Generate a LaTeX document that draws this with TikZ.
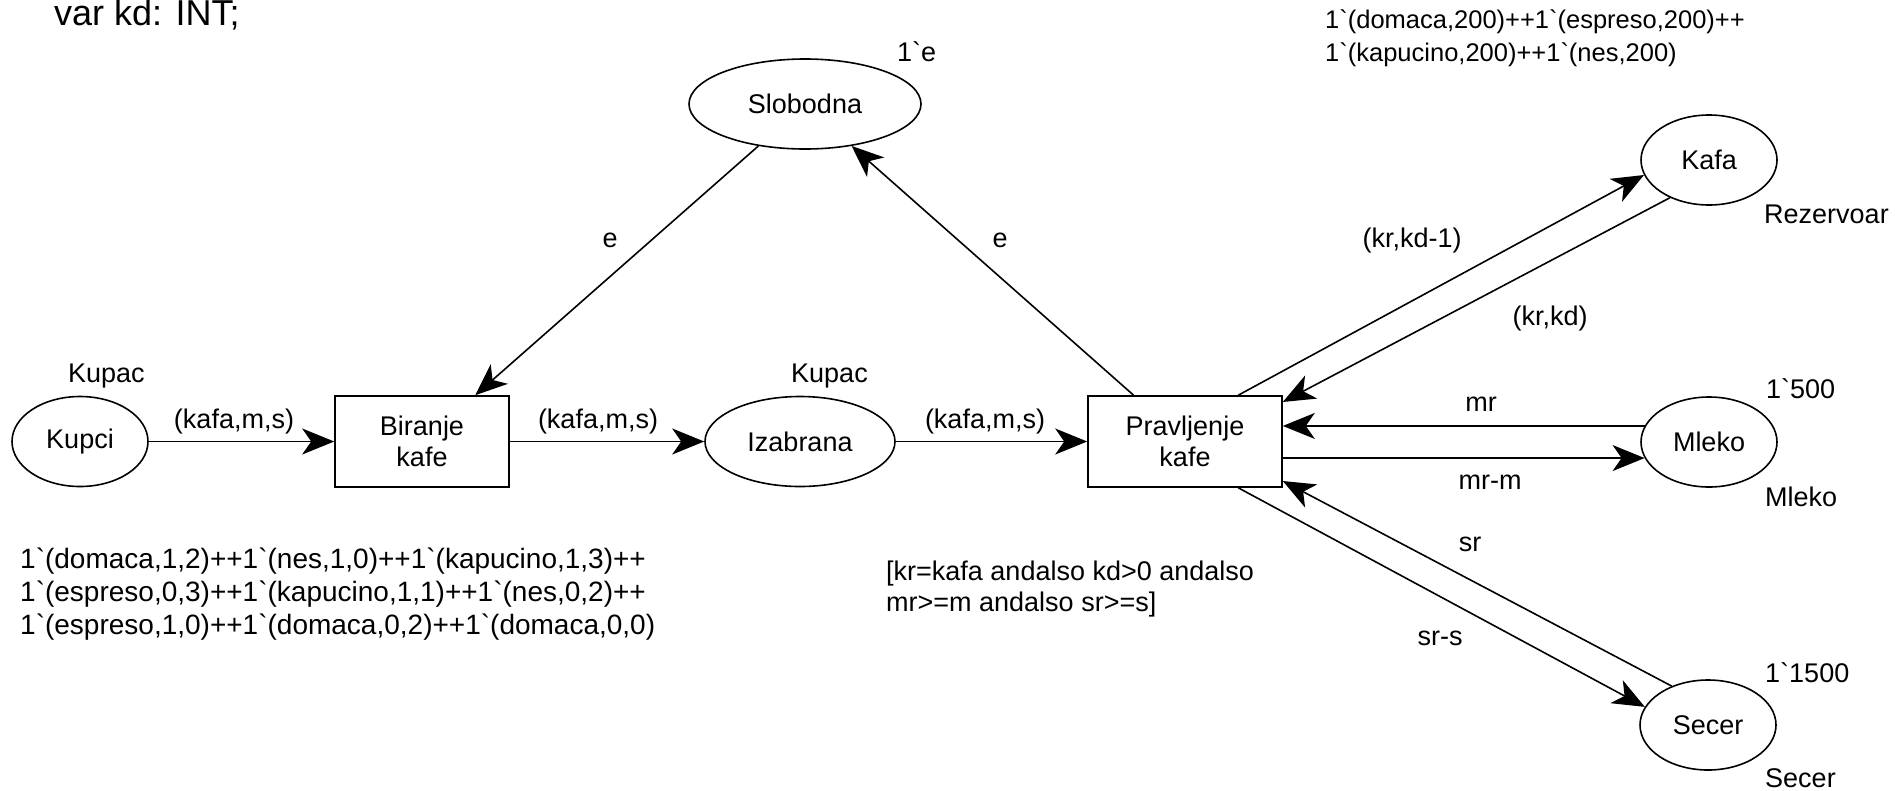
\documentclass[tikz,border=0pt]{standalone}
\usepackage{fontspec}
\newfontfamily\lsans{Liberation Sans}
\usetikzlibrary{arrows.meta,shapes.geometric,calc}
\begin{document}
\begin{tikzpicture}[x=1pt,y=-1pt,
  every node/.style={font=\lsans\fontsize{27}{31}\selectfont},
  place/.style={ellipse,draw,line width=1.6pt,inner sep=0pt,minimum width=136pt,minimum height=90pt},
  trans/.style={rectangle,draw,line width=1.6pt,inner sep=0pt,align=center,minimum height=91pt},
  arc/.style={line width=1.6pt,-{Stealth[length=32pt,width=26pt,inset=9pt]}},
  lbl/.style={inner sep=0pt,anchor=base},
  lblw/.style={inner sep=0pt,anchor=base west},
  txt/.style={inner sep=0pt,anchor=north west,align=left}]
\useasboundingbox (0,0) rectangle (1895,790);

% declarations
\node[lblw,font=\lsans\fontsize{36}{40}\selectfont] (decl) at (54,25) {var kd: INT;};
\node[txt,font=\lsans\fontsize{25.5}{33}\selectfont] (kafainit) at (1325,10) {1`(domaca,200)++1`(espreso,200)++\\1`(kapucino,200)++1`(nes,200)};

% places
\node[place] (kupci) at (80,441.5) {Kupci};
\node[place,minimum width=232pt] (slob) at (805,104) {Slobodna};
\node[place,minimum width=190pt] (izab) at (800,441.5) {Izabrana};
\node[place] (kafa) at (1709,160) {Kafa};
\node[place] (mleko) at (1709,442) {Mleko};
\node[place] (secer) at (1708,725) {Secer};

% transitions
\node[trans,minimum width=174pt] (bir) at (422,441.5) {Biranje\\kafe};
\node[trans,minimum width=194pt] (prav) at (1185,441.5) {Pravljenje\\kafe};

% place annotations
\node[lblw] (kupcityp) at (68,382) {Kupac};
\node[lblw] (izabtyp) at (791,382) {Kupac};
\node[lblw] (slobinit) at (897,61) {1`e};
\node[lblw] (kafatyp) at (1764,223) {Rezervoar};
\node[lblw] (mlekoinit) at (1766,398) {1`500};
\node[lblw] (mlekotyp) at (1765,506) {Mleko};
\node[lblw] (secerinit) at (1765,682) {1`1500};
\node[lblw] (secertyp) at (1765,787) {Secer};
\node[txt,font=\lsans\fontsize{28}{33}\selectfont] (kupciinit) at (20,548) {1`(domaca,1,2)++1`(nes,1,0)++1`(kapucino,1,3)++\\1`(espreso,0,3)++1`(kapucino,1,1)++1`(nes,0,2)++\\1`(espreso,1,0)++1`(domaca,0,2)++1`(domaca,0,0)};
\node[txt] (guard) at (886,561) {[kr=kafa andalso kd>0 andalso\\mr>=m andalso sr>=s]};

% arcs
\draw[arc] (kupci) -- (bir);
\draw[arc] (bir) -- (izab);
\draw[arc] (izab) -- (prav);
\draw[arc] (slob.222) -- (bir.41);
\draw[arc] (prav.138) -- (slob.318);
\draw[arc] (prav.41) -- (kafa.193);
\draw[arc] (kafa.224) -- (prav.22);
\draw[arc] (mleko.166) -- (mleko.166 -| prav.east);
\draw[arc] (prav.east |- mleko.194) -- (mleko.194);
\draw[arc] (secer.133) -- (prav.-22);
\draw[arc] (prav.-41) -- (secer.164);

% arc inscriptions
\node[lbl] (i1) at (234,428) {(kafa,m,s)};
\node[lbl] (i2) at (598,428) {(kafa,m,s)};
\node[lbl] (i3) at (985,428) {(kafa,m,s)};
\node[lbl] (e1) at (610,247) {e};
\node[lbl] (e2) at (1000,247) {e};
\node[lbl] (kr1) at (1412,247) {(kr,kd-1)};
\node[lbl] (kr2) at (1550,325) {(kr,kd)};
\node[lbl] (mr) at (1481,411) {mr};
\node[lbl] (mrm) at (1490,489) {mr-m};
\node[lbl] (sr) at (1470,551) {sr};
\node[lbl] (srs) at (1440,645) {sr-s};
\end{tikzpicture}
\end{document}
